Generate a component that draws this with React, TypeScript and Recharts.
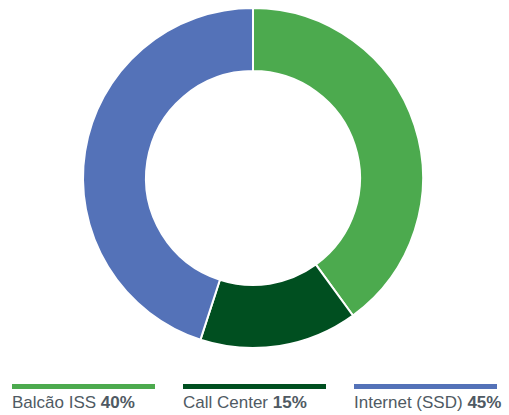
import React from 'react';
import { PieChart, Pie, Cell, Legend } from 'recharts';

const channels = ['Balcão ISS', 'Call Center', 'Internet (SSD)'];
const shares = [40, 15, 45];
const colors = ['#4CAA4E', '#004F20', '#5472B8'];

const data = channels.map((name, i) => ({ name, value: shares[i] }));

const renderLegend = () => (
  <div style={{ width: 509, fontFamily: '"Liberation Sans", Arial, sans-serif' }}>
    {data.map((d, i) => (
      <div key={d.name} style={{ position: 'absolute', left: 12 + i * 171, top: 0, width: 143 }}>
        <div style={{ height: 5, background: colors[i] }} />
        <div style={{ marginTop: 4, fontSize: 17, color: '#4F5A63', whiteSpace: 'nowrap' }}>
          {d.name} <b>{d.value}%</b>
        </div>
      </div>
    ))}
  </div>
);

const App: React.FC = () => {
  return (
    <div style={{ position: 'absolute', left: 0, top: 0 }}>
      <PieChart width={509} height={415} margin={{ top: 0, right: 0, bottom: 0, left: 0 }}>
        <Pie
          data={data}
          dataKey="value"
          nameKey="name"
          cx={253}
          cy={178}
          innerRadius={107}
          outerRadius={170}
          startAngle={90}
          endAngle={-270}
          stroke="#ffffff"
          strokeWidth={2}
          isAnimationActive={false}
        >
          {data.map((d, i) => (
            <Cell key={d.name} fill={colors[i]} />
          ))}
        </Pie>
        <Legend
          content={renderLegend}
          wrapperStyle={{ left: 0, top: 384, width: 509 }}
        />
      </PieChart>
    </div>
  );
};

export default App;
